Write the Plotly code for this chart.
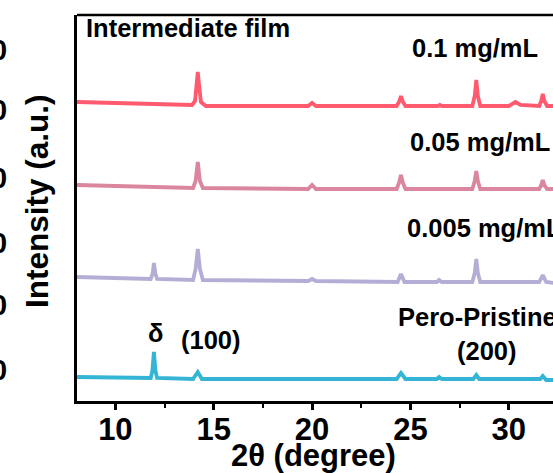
import plotly.graph_objects as go

# ---- data (2θ in degrees, stacked intensity in arbitrary units) ----
x_01 = [8.05, 10, 12, 13.9, 14.05, 14.12, 14.19, 14.26, 14.35, 14.6, 17, 19.8, 20.0, 20.2, 22, 24.3, 24.42, 24.52,
        24.62, 24.75, 26.4, 26.5, 26.6, 28.15, 28.27, 28.35, 28.43, 28.55, 30.0, 30.34, 30.6, 31.55, 31.65, 31.73,
        31.81, 31.95, 32.3]
y_01 = [299, 298, 297, 296, 300, 315, 329, 315, 299, 295, 295, 295, 298, 295, 295, 295, 299, 305,
        299, 295, 295, 296, 295, 295, 305, 321, 305, 295, 295, 299, 296, 295, 300, 307,
        300, 295, 295]

x_005 = [8.05, 12, 13.95, 14.08, 14.19, 14.3, 14.45, 19.8, 20.0, 20.2, 24.3, 24.42, 24.52, 24.62, 24.75, 28.15,
         28.27, 28.35, 28.43, 28.55, 31.55, 31.65, 31.73, 31.81, 31.95, 32.3]
y_005 = [216, 214, 213, 220, 239, 220, 213, 212, 216, 212, 212, 218, 226, 218, 212, 212,
         220, 230, 220, 212, 212, 216, 221, 216, 212, 212]

x_0005 = [8.05, 11.8, 11.9, 11.96, 12.03, 12.12, 13.95, 14.08, 14.19, 14.3, 14.45, 19.8, 20.0, 20.2, 24.35, 24.52,
          24.7, 26.35, 26.46, 26.6, 28.15, 28.27, 28.35, 28.43, 28.55, 31.55, 31.73, 31.9, 32.3]
y_0005 = [124, 122, 128, 138, 128, 122, 121, 132, 152, 132, 121, 120, 122, 120, 119, 127,
          119, 119, 121, 119, 119, 128, 142, 128, 119, 119, 126, 119, 118]

x_pris = [8.05, 11.8, 11.88, 11.96, 12.04, 12.12, 13.95, 14.19, 14.4, 24.3, 24.52, 24.75, 26.35, 26.46, 26.6,
          28.2, 28.35, 28.5, 31.6, 31.73, 31.9, 32.3]
y_pris = [24, 23, 30, 49, 30, 23, 22, 29, 22, 22, 28, 22, 22, 24, 22,
          22, 26, 22, 22, 25, 21, 21]

series_names = ["0.1 mg/mL", "0.05 mg/mL", "0.005 mg/mL", "Pero-Pristine"]
tick_vals = [10, 15, 20, 25, 30]
tick_text = ["10", "15", "20", "25", "30"]

colors = ["#FF5A6E", "#D9869E", "#B4AED6", "#35B5D5"]
FONT = "Arial, Liberation Sans, sans-serif"

fig = go.Figure()
for xs, ys, c, n in zip([x_01, x_005, x_0005, x_pris], [y_01, y_005, y_0005, y_pris], colors, series_names):
    fig.add_trace(go.Scatter(x=xs, y=ys, mode="lines", name=n,
                             line=dict(color=c, width=3.8), showlegend=False))

fig.update_layout(
    width=553, height=473,
    margin=dict(l=77, r=0, t=15, b=72),
    paper_bgcolor="white", plot_bgcolor="white",
    font=dict(family=FONT, color="black"),
    xaxis=dict(range=[8.05, 32.25], tickvals=tick_vals, ticktext=tick_text,
               showline=True, linecolor="black", linewidth=2.5, mirror=False,
               ticks="outside", ticklen=6, tickwidth=2.5, tickcolor="black",
               ticklabelstandoff=-7,
               minor=dict(tickvals=[12.5, 17.5, 22.5, 27.5], ticks="outside", ticklen=4, tickwidth=2, tickcolor="black"),
               tickfont=dict(size=31, family=FONT, weight="bold"),
               showgrid=False, zeroline=False),
    yaxis=dict(range=[0, 386], showticklabels=False, ticks="",
               showline=True, linecolor="black", linewidth=2.5,
               showgrid=False, zeroline=False),
)

# top frame line
fig.add_shape(type="line", xref="paper", yref="paper", x0=0, x1=1, y0=1, y1=1,
              line=dict(color="black", width=2.5))

bold = dict(family=FONT, size=25.5, color="black", weight="bold")
labels = [
    ("Intermediate film", 8.4, 373, "left"),
    ("0.1 mg/mL", 24.99, 353, "left"),
    ("0.05 mg/mL", 24.9, 259, "left"),
    ("0.005 mg/mL", 24.75, 173, "left"),
    ("Pero-Pristine", 24.25, 84, "left"),
    ("(200)", 27.25, 50, "left"),
    ("δ", 12.05, 68, "center"),
    ("(100)", 13.25, 61, "left"),
]
for t, xx, yy, anc in labels:
    fig.add_annotation(text=t, x=xx, y=yy, xref="x", yref="y", xanchor=anc, yanchor="middle",
                       showarrow=False, font=bold)

# axis titles
fig.add_annotation(text="Intensity (a.u.)", xref="paper", yref="paper", x=-0.084, y=0.518,
                   textangle=-90, showarrow=False, xanchor="center", yanchor="middle",
                   font=dict(family=FONT, size=31.5, color="black", weight="bold"))
fig.add_annotation(text="2θ (degree)", xref="paper", yref="paper", x=0.497, y=-0.142,
                   showarrow=False, xanchor="center", yanchor="middle",
                   font=dict(family=FONT, size=31, color="black", weight="bold"))

# clipped tick labels of the neighbouring panel at the far left
for py in [50, 110, 178, 243, 305, 370]:
    fig.add_annotation(text="0", xref="paper", yref="paper", x=(-1 - 77) / 476, y=(401 - py) / 386,
                       showarrow=False, xanchor="center", yanchor="middle",
                       font=dict(family=FONT, size=29, color="black", weight="bold"))

fig.write_html("out.html")
